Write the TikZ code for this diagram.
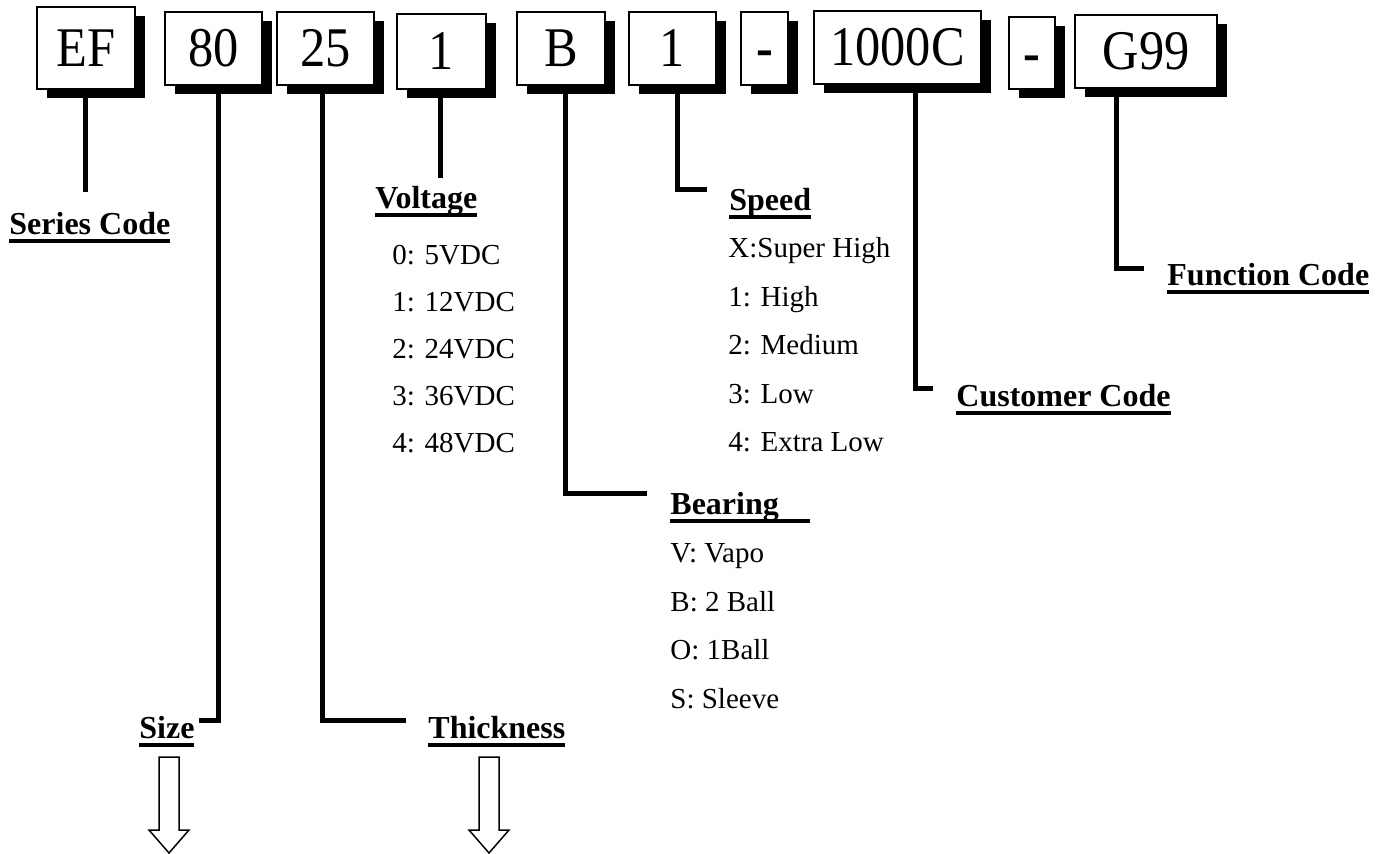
\documentclass[tikz,border=0pt]{standalone}
\usepackage{fontspec}
\setmainfont{Liberation Serif}
\usetikzlibrary{shadows}

\newsavebox\headbox
\newcommand\headtxt[2][0pt]{\sbox\headbox{#2}\usebox\headbox\hspace{-\wd\headbox}\rule[-4pt]{\dimexpr\wd\headbox+#1\relax}{2pt}}
\newcommand\codetxt[1]{\scalebox{0.9}[1]{#1}}

\tikzset{
	codebox/.style={draw, line width=1.2pt, fill=white, inner sep=0pt,
		text height=18.5pt, text depth=0pt, font=\fontsize{28}{30}\selectfont,
		drop shadow={shadow xshift=5pt, shadow yshift=-4.5pt, fill=black, opacity=1}},
	head/.style={anchor=base west, inner sep=0pt, font=\bfseries\fontsize{16}{19}\selectfont},
	items/.style={anchor=base west, inner sep=0pt, align=left},
	lead/.style={line width=2.5pt},
	hollow/.style={draw, line width=0.75pt, fill=white}
}

\begin{document}
\begin{tikzpicture}[x=0.5pt, y=-0.5pt]
	\useasboundingbox (0,0) rectangle (1386,854);

	% code boxes
	\node[codebox, minimum width=49pt,   minimum height=41pt]   (efBox)    at (86,48)     {\codetxt{EF}};
	\node[codebox, minimum width=48.5pt, minimum height=36.5pt] (sizeBox)  at (213.5,48.5) {\codetxt{80}};
	\node[codebox, minimum width=48.5pt, minimum height=36.5pt] (thickBox) at (325.5,48.5) {\codetxt{25}};
	\node[codebox, minimum width=44.5pt, minimum height=37.5pt] (voltBox)  at (441.5,51.5) {\codetxt{1}};
	\node[codebox, minimum width=44pt,   minimum height=36.5pt] (bearBox)  at (561,48.5)   {\codetxt{B}};
	\node[codebox, minimum width=43.5pt, minimum height=36.5pt] (speedBox) at (672.5,48.5) {\codetxt{1}};
	\node[codebox, minimum width=23.5pt, minimum height=36.5pt] (dashA)    at (764.5,48.5) {\codetxt{\bfseries -}};
	\node[codebox, minimum width=83.5pt, minimum height=36.5pt] (custBox)  at (897.5,47.5) {\codetxt{1000C}};
	\node[codebox, minimum width=23pt,   minimum height=36pt]   (dashB)    at (1032,53)    {\codetxt{\bfseries -}};
	\node[codebox, minimum width=71pt,   minimum height=36.5pt] (funcBox)  at (1146,51.5)  {\codetxt{G99}};

	% headings
	\node[head] (seriesLab) at (9,235)    {\headtxt{Series Code}};
	\node[head] (voltLab)   at (375,209)  {\headtxt{Voltage}};
	\node[head] (speedLab)  at (729,211)  {\headtxt{Speed}};
	\node[head] (custLab)   at (956,407)  {\headtxt{Customer Code}};
	\node[head] (funcLab)   at (1167,286) {\headtxt{Function Code}};
	\node[head] (bearLab)   at (670,515)  {\headtxt[15.5pt]{Bearing}};
	\node[head] (sizeLab)   at (139,739)  {\headtxt{Size}};
	\node[head] (thickLab)  at (428,739)  {\headtxt{Thickness}};

	% option lists (placed at the baseline of their last line)
	\node[items, font=\fontsize{14.5}{23.5}\selectfont]  (voltList)  at (392,453) {0: 5VDC\\1: 12VDC\\2: 24VDC\\3: 36VDC\\4: 48VDC};
	\node[items, font=\fontsize{14.5}{24.25}\selectfont] (speedList) at (728,452) {X:Super High\\1: High\\2: Medium\\3: Low\\4: Extra Low};
	\node[items, font=\fontsize{14.5}{24.2}\selectfont]  (bearList)  at (670,708) {V: Vapo\\B: 2 Ball\\O: 1Ball\\S: Sleeve};

	% leader ends
	\coordinate (efEnd)    at (85,192);
	\coordinate (voltEnd)  at (440,178);
	\coordinate (sizeKnee) at (218,720);  \coordinate (sizeEnd)  at (199,720);
	\coordinate (thickKnee) at (322,720); \coordinate (thickEnd) at (406,720);
	\coordinate (bearKnee) at (565,494);  \coordinate (bearEnd)  at (647,494);
	\coordinate (speedKnee) at (677,190); \coordinate (speedEnd) at (707,190);
	\coordinate (custKnee) at (915,389);  \coordinate (custEnd)  at (933,389);
	\coordinate (funcKnee) at (1116,269); \coordinate (funcEnd)  at (1144,269);

	\draw[lead] (efBox.south -| efEnd) -- (efEnd);
	\draw[lead] (voltBox.south -| voltEnd) -- (voltEnd);
	\draw[lead] (sizeBox.south -| sizeKnee) -- (sizeKnee) -- (sizeEnd);
	\draw[lead] (thickBox.south -| thickKnee) -- (thickKnee) -- (thickEnd);
	\draw[lead] (bearBox.south -| bearKnee) -- (bearKnee) -- (bearEnd);
	\draw[lead] (speedBox.south -| speedKnee) -- (speedKnee) -- (speedEnd);
	\draw[lead] (custBox.south -| custKnee) -- (custKnee) -- (custEnd);
	\draw[lead] (funcBox.south -| funcKnee) -- (funcKnee) -- (funcEnd);

	% hollow arrows
	\draw[hollow] (159,757) -- (179,757) -- (179,830) -- (189,830) -- (169,853) -- (149,830) -- (159,830) -- cycle;
	\draw[hollow] (479,757) -- (499,757) -- (499,830) -- (509,830) -- (489,853) -- (469,830) -- (479,830) -- cycle;
\end{tikzpicture}
\end{document}
